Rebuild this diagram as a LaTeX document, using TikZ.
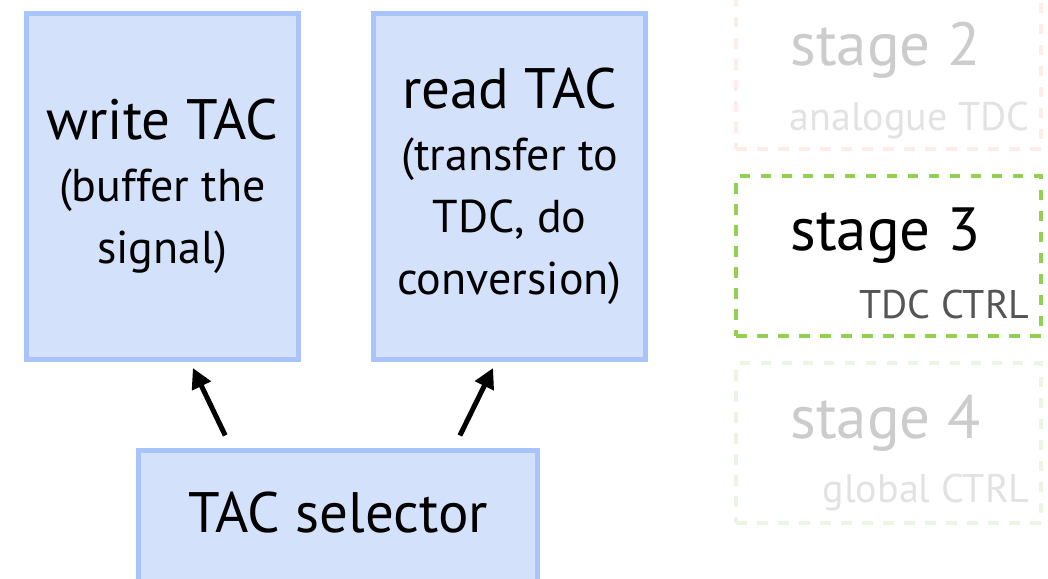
\documentclass[tikz,border=0pt]{standalone}
\usepackage{fontspec}
\setmainfont{PT Sans}
\usepackage{tikz}
\usetikzlibrary{arrows.meta, calc, positioning}
\definecolor{tacfill}{HTML}{D4E1FB}
\definecolor{tacline}{HTML}{A9C4FB}
\definecolor{stagegreen}{HTML}{92D050}
\definecolor{stagepink}{HTML}{FDEDE6}
\definecolor{stagepale}{HTML}{EBF6E2}
\definecolor{ghosttitle}{HTML}{CCCCCC}
\definecolor{ghostsub}{HTML}{E2E2E2}
\definecolor{subgray}{HTML}{555555}
\newcommand{\bigtxt}{\fontsize{28.5}{32}\selectfont}
\newcommand{\smalltxt}{\fontsize{23}{31}\selectfont}
\newcommand{\titletxt}{\fontsize{30.5}{34}\selectfont}
\newcommand{\subtxt}{\fontsize{20}{24}\selectfont}
\tikzset{tacbox/.style={draw=tacline, fill=tacfill, line width=2.5pt, inner sep=0pt, align=center, font=\smalltxt}}
\tikzset{stagebox/.style={draw=#1, line width=2pt, dash pattern=on 5.25pt off 5.25pt, minimum width=152.5pt, minimum height=80pt, inner sep=0pt}}
\tikzset{stagetitle/.style={font=\titletxt, text=#1, anchor=base west, inner sep=0pt}}
\tikzset{stagesub/.style={font=\subtxt, text=#1, anchor=base east, inner sep=0pt}}
\tikzset{selarrow/.style={line width=2.5pt, -{Triangle[length=10pt, width=10pt]}, shorten <=6.7pt, shorten >=3.3pt}}

\begin{document}
\begin{tikzpicture}[x=0.5pt, y=-0.5pt]
            \clip (0, 0) rectangle (1048, 578);
            \node[tacbox, minimum width=136pt, minimum height=173pt] (writetac) at (162.5, 186.5) {{\bigtxt write TAC}\\(buffer the\\signal)};
            \node[tacbox, minimum width=136pt, minimum height=173pt] (readtac) at (509.5, 186.5) {{\bigtxt read TAC}\\(transfer to\\TDC, do\\conversion)};
            \node[tacbox, font=\bigtxt, anchor=north, minimum width=199.5pt, text height=41pt, text depth=45pt] (selector) at (338, 447.5) {TAC selector};
            \coordinate (wtail) at ($(selector.north west) + (95, 0)$);
            \coordinate (wtip) at ($(writetac.south west) + (166, 0)$);
            \coordinate (rtail) at ($(selector.north west) + (318, 0)$);
            \coordinate (rtip) at ($(readtac.south west) + (125, 0)$);
            \draw[selarrow] (wtail) -- (wtip);
            \draw[selarrow] (rtail) -- (rtip);
            \node[stagebox=stagepink] (stage2) at (888.5, 69) {};
            \node[stagebox=stagegreen] (stage3) at (888.5, 256) {};
            \node[stagebox=stagepale] (stage4) at (888.5, 443) {};
            \node[stagetitle=ghosttitle] (title2) at (790, 65) {stage 2};
            \node[stagesub=ghostsub] (sub2) at (1030, 130) {analogue TDC};
            \node[stagetitle=black] (title3) at (790, 250) {stage 3};
            \node[stagesub=subgray] (sub3) at (1030, 318) {TDC CTRL};
            \node[stagetitle=ghosttitle] (title4) at (790, 438) {stage 4};
            \node[stagesub=ghostsub] (sub4) at (1030, 502) {global CTRL};
        \end{tikzpicture}
\end{document}
